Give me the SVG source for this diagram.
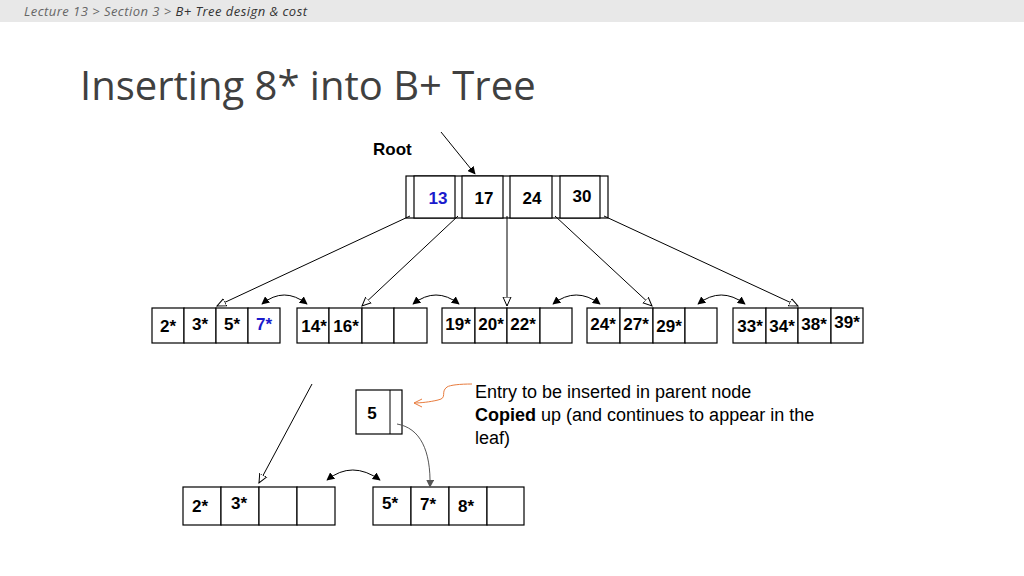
<svg xmlns="http://www.w3.org/2000/svg" width="1024" height="576" viewBox="0 0 1024 576">
<style>
.c{fill:#fff;stroke:#000;stroke-width:1.2}
.k{font-family:"Liberation Sans",Arial,sans-serif;font-weight:bold;font-size:17px;text-anchor:middle}
.l{stroke:#000;stroke-width:1;fill:none}
.t{font-family:"Liberation Sans",Arial,sans-serif;font-size:18px}
</style>
<defs>
<marker id="o" viewBox="0 0 10 10" refX="9" refY="5" markerWidth="10" markerHeight="10" orient="auto" markerUnits="userSpaceOnUse"><path d="M0,1 L9,5 L0,9 Z" fill="#fff" stroke="#000"/></marker>
<marker id="f" viewBox="0 0 10 10" refX="9" refY="5" markerWidth="8" markerHeight="8" orient="auto-start-reverse" markerUnits="userSpaceOnUse"><path d="M0,0 L10,5 L0,10 Z" fill="#000"/></marker>
<marker id="g" viewBox="0 0 10 10" refX="9" refY="5" markerWidth="8" markerHeight="8" orient="auto" markerUnits="userSpaceOnUse"><path d="M0,0 L10,5 L0,10 Z" fill="#555"/></marker>
<marker id="r" viewBox="0 0 10 10" refX="9" refY="5" markerWidth="10" markerHeight="10" orient="auto" markerUnits="userSpaceOnUse"><path d="M1,1 L9,5 L1,9" fill="none" stroke="#e87c3e"/></marker>
</defs>
<rect x="0" y="0" width="1024" height="22" fill="#e8e8e8"/>
<text x="24" y="16" font-family="'Open Sans',sans-serif" font-style="italic" font-size="13" fill="#666" textLength="283" lengthAdjust="spacing">Lecture 13  &gt;  Section 3 &gt;  <tspan fill="#333">B+ Tree design &amp; cost</tspan></text>
<text x="80" y="100" font-family="'Open Sans',sans-serif" font-size="40" fill="#404040">Inserting 8* into B+ Tree</text>
<g id="root">
<text x="373" y="155" class="k" style="text-anchor:start">Root</text>
<rect class="c" x="406" y="176" width="202" height="42"/>
<rect class="c" x="414" y="176" width="41" height="42"/>
<rect class="c" x="462" y="176" width="41" height="42"/>
<rect class="c" x="510" y="176" width="42" height="42"/>
<rect class="c" x="560" y="176" width="40" height="42"/>
<text class="k" x="438" y="204" fill="#1a1acc">13</text>
<text class="k" x="484" y="204">17</text>
<text class="k" x="532" y="204">24</text>
<text class="k" x="582" y="202">30</text>
</g>
<g id="leaf1"><rect class="c" x="152" y="308" width="32" height="35"/><rect class="c" x="184" y="308" width="32" height="35"/><rect class="c" x="216" y="308" width="32" height="35"/><rect class="c" x="248" y="308" width="32" height="35"/>
<text class="k" x="168" y="332">2*</text><text class="k" x="200" y="330">3*</text><text class="k" x="232" y="330">5*</text><text class="k" x="264" y="330" fill="#1a1acc">7*</text></g>
<g id="leaf2"><rect class="c" x="297" y="308" width="32" height="35"/><rect class="c" x="329" y="308" width="33" height="35"/><rect class="c" x="362" y="308" width="32" height="35"/><rect class="c" x="394" y="308" width="33" height="35"/>
<text class="k" x="314" y="332">14*</text><text class="k" x="346" y="332">16*</text></g>
<g id="leaf3"><rect class="c" x="442" y="308" width="33" height="35"/><rect class="c" x="475" y="308" width="32" height="35"/><rect class="c" x="507" y="308" width="33" height="35"/><rect class="c" x="540" y="308" width="32" height="35"/>
<text class="k" x="458" y="330">19*</text><text class="k" x="491" y="330">20*</text><text class="k" x="523" y="330">22*</text></g>
<g id="leaf4"><rect class="c" x="587" y="308" width="33" height="35"/><rect class="c" x="620" y="308" width="33" height="35"/><rect class="c" x="653" y="308" width="32" height="35"/><rect class="c" x="685" y="308" width="32" height="35"/>
<text class="k" x="603" y="330">24*</text><text class="k" x="636" y="330">27*</text><text class="k" x="669" y="332">29*</text></g>
<g id="leaf5"><rect class="c" x="733" y="308" width="33" height="35"/><rect class="c" x="766" y="308" width="32" height="35"/><rect class="c" x="798" y="308" width="33" height="35"/><rect class="c" x="831" y="308" width="32" height="35"/>
<text class="k" x="750" y="332">33*</text><text class="k" x="782" y="332">34*</text><text class="k" x="814" y="330">38*</text><text class="k" x="847" y="328">39*</text></g>
<g id="entry"><rect class="c" x="356" y="390" width="46" height="44"/><line class="l" x1="390" y1="390" x2="390" y2="434"/>
<text class="k" x="372" y="419" font-size="18">5</text></g>
<g id="leafA"><rect class="c" x="183" y="487" width="38" height="38"/><rect class="c" x="221" y="487" width="38" height="38"/><rect class="c" x="259" y="487" width="38" height="38"/><rect class="c" x="297" y="487" width="38" height="38"/>
<text class="k" x="200" y="512">2*</text><text class="k" x="239" y="509">3*</text></g>
<g id="leafB"><rect class="c" x="373" y="487" width="38" height="38"/><rect class="c" x="411" y="487" width="38" height="38"/><rect class="c" x="449" y="487" width="38" height="38"/><rect class="c" x="487" y="487" width="37" height="38"/>
<text class="k" x="390" y="509">5*</text><text class="k" x="428" y="510">7*</text><text class="k" x="466" y="512">8*</text></g>
<g id="note" class="t"><text x="475" y="398">Entry to be inserted in parent node</text>
<text x="475" y="421"><tspan font-weight="bold">Copied</tspan> up (and continues to appear in the</text>
<text x="475" y="444">leaf)</text></g>
<g id="connectors">
<line class="l" x1="441" y1="132" x2="475" y2="174" marker-end="url(#f)"/>
<line class="l" x1="410" y1="216" x2="217" y2="306" marker-end="url(#o)"/>
<line class="l" x1="458" y1="216" x2="362" y2="306" marker-end="url(#o)"/>
<line class="l" x1="507" y1="216" x2="507" y2="306" marker-end="url(#o)"/>
<line class="l" x1="555" y1="216" x2="652" y2="306" marker-end="url(#o)"/>
<line class="l" x1="604" y1="216" x2="798" y2="306" marker-end="url(#o)"/>
<path class="l" d="M262,304 Q284,286 307,304" marker-start="url(#f)" marker-end="url(#f)"/>
<path class="l" d="M413,304 Q436,286 459,304" marker-start="url(#f)" marker-end="url(#f)"/>
<path class="l" d="M553,304 Q576,286 600,304" marker-start="url(#f)" marker-end="url(#f)"/>
<path class="l" d="M698,304 Q721,286 745,304" marker-start="url(#f)" marker-end="url(#f)"/>
<line class="l" x1="312" y1="384" x2="259" y2="483" marker-end="url(#o)"/>
<path class="l" d="M327,480 Q352,460 380,480" marker-start="url(#f)" marker-end="url(#f)"/>
<path d="M397,424 C420,428 431,450 430,487" fill="none" stroke="#555" stroke-width="1" marker-end="url(#g)"/>
<path d="M472,384 C460,384 450,385 447,387 C440,392 448,398 438,400 C430,402 420,403 414,403" fill="none" stroke="#e87c3e" stroke-width="1" marker-end="url(#r)"/>
</g>
</svg>
